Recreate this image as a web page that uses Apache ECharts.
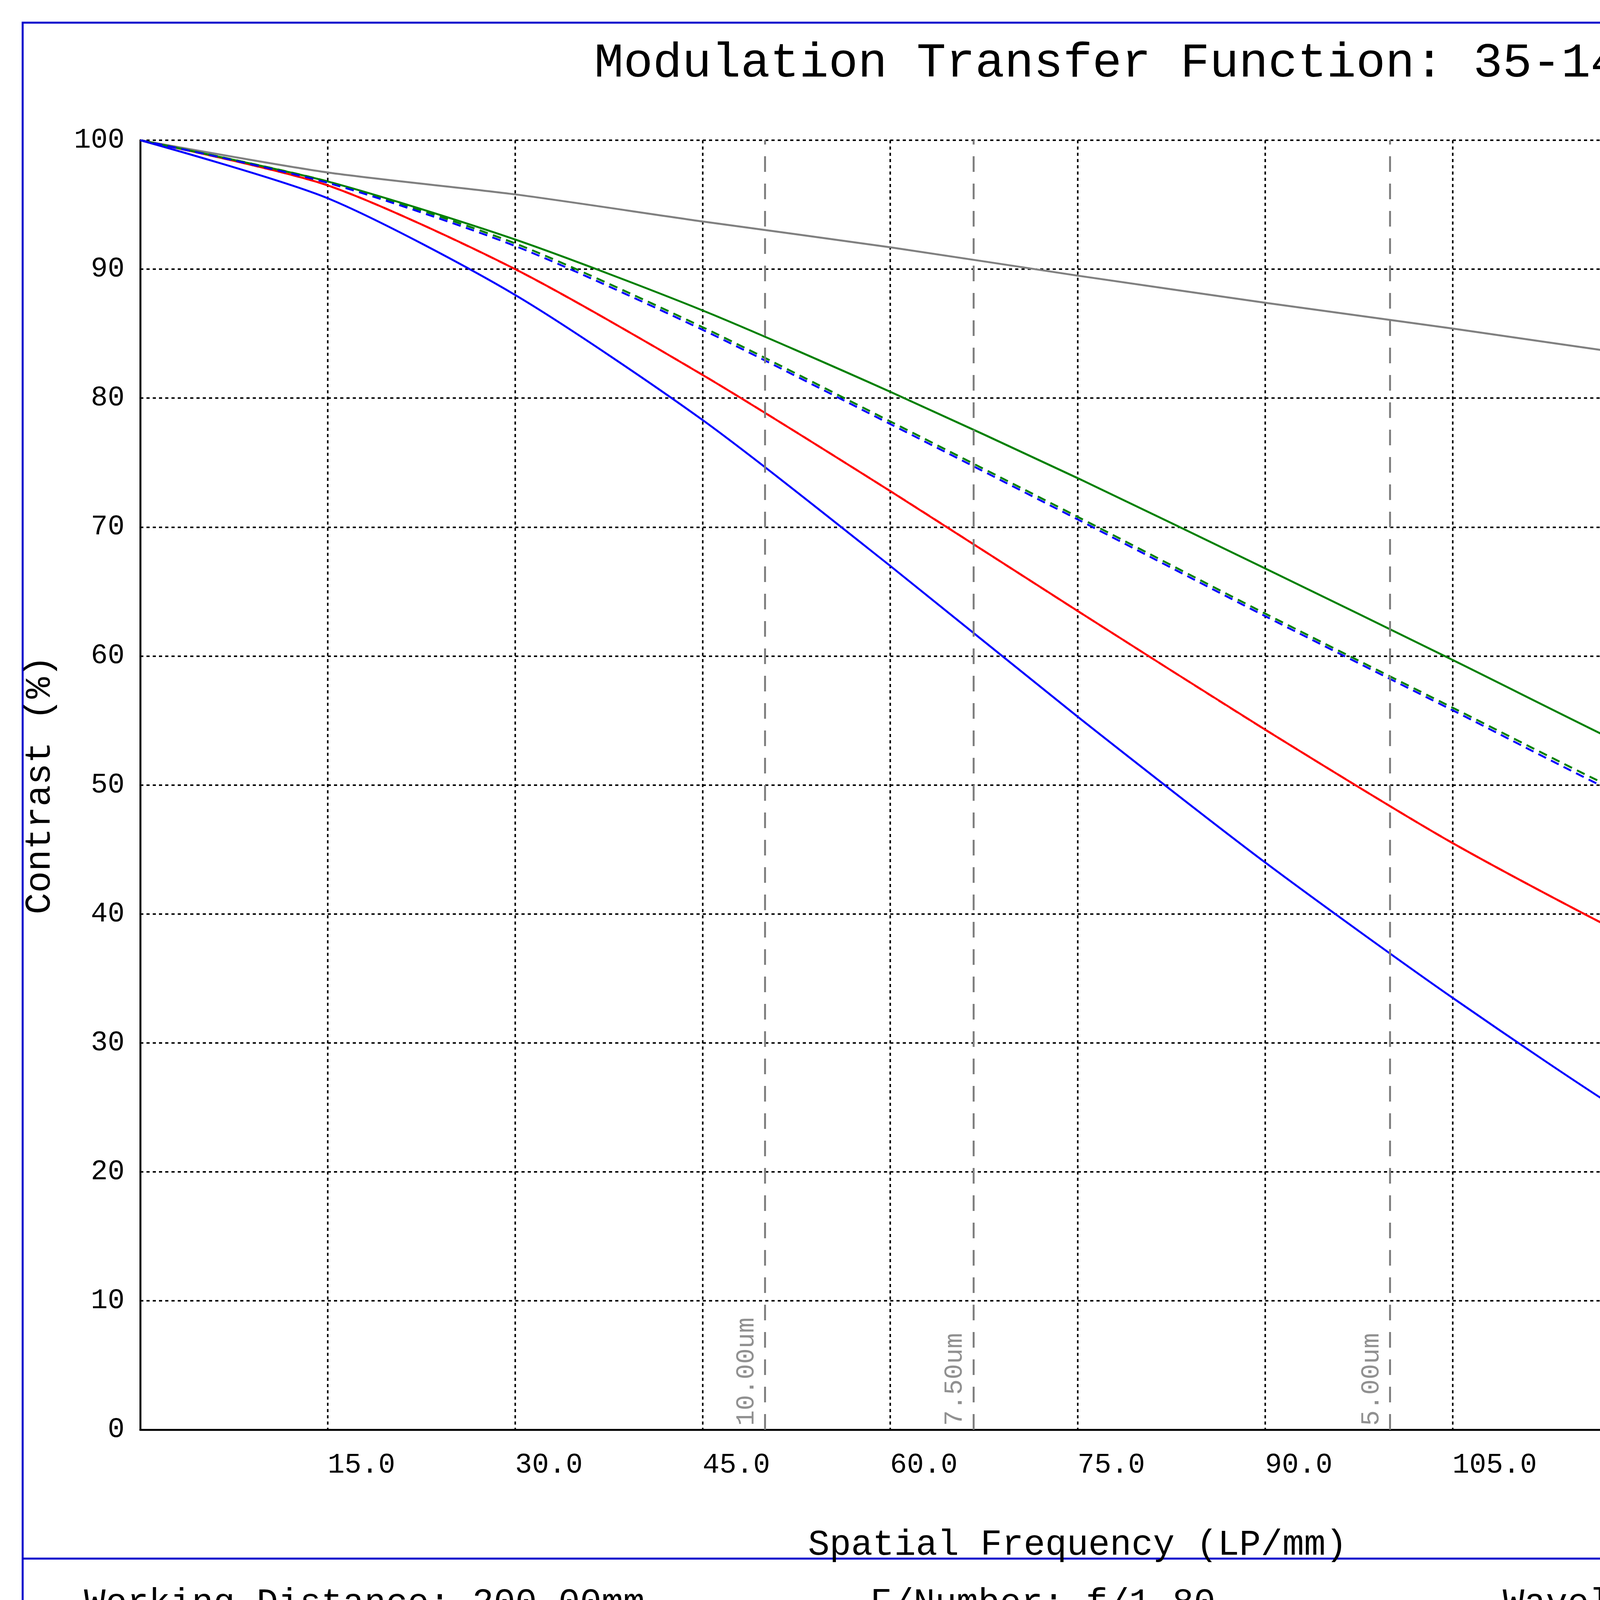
<!DOCTYPE html>
<html><head><meta charset="utf-8">
<script src="https://cdn.jsdelivr.net/npm/echarts@6/dist/echarts.min.js"></script>
<style>html,body{margin:0;padding:0;background:#fff}#c{width:6118px;height:4327px}</style>
</head><body><div id="c"></div>
<script>
const freqs = [0, 15, 30, 45, 60, 75, 90, 105, 120, 135, 150];
const diffLimit = [100, 97.5, 95.8, 93.7, 91.7, 89.5, 87.4, 85.4, 83.3, 81.4, 79.4];
const ts000T = [100, 96.5, 90.0, 81.8, 72.8, 63.5, 54.3, 45.5, 37.8, 31.2, 26.2];
const ts000S = [100, 96.5, 90.0, 81.8, 72.8, 63.5, 54.3, 45.5, 37.8, 31.2, 26.2];
const ts400T = [100, 96.8, 92.3, 86.8, 80.5, 73.8, 66.8, 59.7, 52.5, 45.8, 39.5];
const ts400S = [100, 96.8, 92.0, 85.5, 78.2, 70.8, 63.3, 56.0, 48.8, 43.0, 38.0];
const ts450T = [100, 95.5, 88.0, 78.3, 67.0, 55.3, 44.0, 33.5, 23.8, 15.8, 9.0];
const ts450S = [100, 96.7, 91.8, 85.3, 78.0, 70.6, 63.1, 55.8, 48.5, 42.5, 37.0];
const pixelLines = [[50.0, '10.00um'], [66.67, '7.50um'], [100.0, '5.00um'], [144.93, '3.45um']];
const legendItems = [['Diff. Limit', '#000000', false], ['TS,0.00mm', '#ff0000', true], ['TS,4.00mm', '#008000', true], ['TS,4.50mm', '#0000ff', true]];

const F = 'Liberation Mono, DejaVu Sans Mono, monospace';
const pts = a => freqs.map((f, i) => [f, a[i]]);
function ser(name, data, color, dashed, extra) {
  return Object.assign({
    name, type: 'line', data: pts(data), smooth: 0.25, showSymbol: false, silent: true,
    lineStyle: {color, width: 5, type: dashed ? [22, 14] : 'solid'}, z: dashed ? 4 : 3
  }, extra || {});
}
const chart = echarts.init(document.getElementById('c'));
const legendG = [{type: 'text', left: 5221, top: 1205, style: {text: 'Fields', font: '62px ' + F, fill: '#000'}}];
legendItems.forEach((it, i) => {
  const y = 1405 + i * 165;
  legendG.push({type: 'line', shape: {x1: 5221, y1: y - 10, x2: 5315, y2: y - 10}, style: {stroke: it[1], lineWidth: 6}});
  if (it[2]) legendG.push({type: 'line', shape: {x1: 5221, y1: y + 8, x2: 5315, y2: y + 8}, style: {stroke: it[1], lineWidth: 6, lineDash: [18, 10]}});
  legendG.push({type: 'text', left: 5360, top: y - 36, style: {text: it[0], font: '62px ' + F, fill: '#000'}});
});
chart.setOption({
  animation: false,
  backgroundColor: '#fff',
  title: {text: 'Modulation Transfer Function: 35-140, 6.0', left: 'center', top: 95,
    textStyle: {fontFamily: F, fontSize: 125, fontWeight: 'normal', color: '#000'}},
  grid: {left: 359, top: 359, width: 4799, height: 3301, containLabel: false},
  xAxis: {type: 'value', min: 0, max: 150, interval: 15,
    name: 'Spatial Frequency (LP/mm)', nameLocation: 'middle', nameGap: 250,
    nameTextStyle: {fontFamily: F, fontSize: 92, color: '#000'},
    axisLine: {show: true, lineStyle: {color: '#000', width: 5}},
    axisTick: {show: false},
    axisLabel: {fontFamily: F, fontSize: 72, color: '#000', margin: 55, align: 'left',
      formatter: v => v === 0 ? '' : v.toFixed(1)},
    splitLine: {show: true, lineStyle: {color: '#000', width: 4, type: [8, 8]}}},
  yAxis: {type: 'value', min: 0, max: 100, interval: 10,
    name: 'Contrast (%)', nameLocation: 'middle', nameGap: 210,
    nameTextStyle: {fontFamily: F, fontSize: 92, color: '#000'},
    axisLine: {show: true, lineStyle: {color: '#000', width: 5}},
    axisTick: {show: false},
    axisLabel: {fontFamily: F, fontSize: 72, color: '#000', margin: 40},
    splitLine: {show: true, lineStyle: {color: '#000', width: 4, type: [8, 8]}}},
  series: [
    ser('Diff. Limit', diffLimit, '#808080', false, {
      markLine: {silent: true, symbol: 'none',
        lineStyle: {color: '#808080', width: 5, type: [40, 30]},
        label: {show: true, position: 'insideStartTop', color: '#909090', fontFamily: F, fontSize: 66,
          formatter: p => p.name, distance: [10, 14]},
        data: pixelLines.map(p => ({xAxis: p[0], name: p[1]}))}}),
    ser('TS,0.00mm T', ts000T, '#ff0000', false),
    ser('TS,0.00mm S', ts000S, '#ff0000', true),
    ser('TS,4.00mm T', ts400T, '#008000', false),
    ser('TS,4.00mm S', ts400S, '#008000', true),
    ser('TS,4.50mm T', ts450T, '#0000ff', false),
    ser('TS,4.50mm S', ts450S, '#0000ff', true)
  ],
  graphic: [
    {type: 'rect', shape: {x: 58, y: 58, width: 6002, height: 4203}, style: {fill: 'none', stroke: '#0000cc', lineWidth: 5}},
    {type: 'line', shape: {x1: 58, y1: 3990, x2: 6060, y2: 3990}, style: {stroke: '#0000cc', lineWidth: 5}},
    {type: 'line', shape: {x1: 0, y1: 4316, x2: 6118, y2: 4316}, style: {stroke: '#000', lineWidth: 8}},
    {type: 'text', left: 215, top: 4060, style: {text: 'Working Distance: 200.00mm', font: '92px ' + F, fill: '#000'}},
    {type: 'text', left: 2228, top: 4060, style: {text: 'F/Number: f/1.80', font: '92px ' + F, fill: '#000'}},
    {type: 'text', left: 3847, top: 4060, style: {text: 'Wavelength Range: 486nm-656nm', font: '92px ' + F, fill: '#000'}}
  ].concat(legendG)
});
</script></body></html>
